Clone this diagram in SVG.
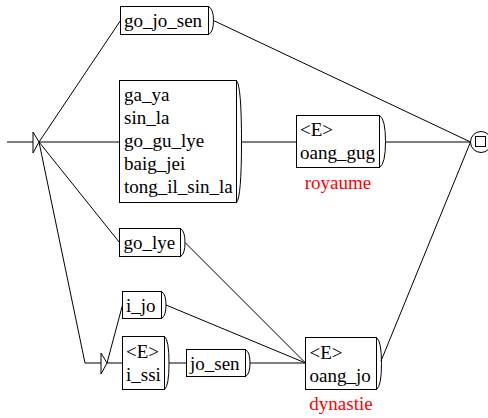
<svg xmlns="http://www.w3.org/2000/svg" width="488" height="418" viewBox="0 0 488 418">
<style>
.box{fill:#fff;stroke:#000;stroke-width:1}
.br{fill:none;stroke:#000;stroke-width:1}
.c{fill:none;stroke:#000;stroke-width:1}
.t{font-family:"Liberation Serif","Times New Roman",serif;font-size:19px;fill:#000}
.out{font-family:"Liberation Serif","Times New Roman",serif;font-size:19px;fill:#f00;text-anchor:middle}
</style>
<rect width="488" height="418" fill="#fff"/>
<g id="connectors">
<line class="c" x1="39" y1="142" x2="120.5" y2="20.5"/>
<line class="c" x1="39" y1="142" x2="119.5" y2="142"/>
<line class="c" x1="39" y1="142" x2="119.5" y2="242.5"/>
<line class="c" x1="39" y1="142" x2="85" y2="363"/>
<line class="c" x1="213.5" y1="20.5" x2="470.5" y2="142"/>
<line class="c" x1="241.5" y1="142" x2="296.5" y2="142"/>
<line class="c" x1="386" y1="142" x2="470.5" y2="142"/>
<line class="c" x1="185" y1="242.5" x2="305.5" y2="363"/>
<line class="c" x1="107" y1="363" x2="122.5" y2="305"/>
<line class="c" x1="107" y1="363" x2="122.5" y2="363"/>
<line class="c" x1="166" y1="305" x2="305.5" y2="363"/>
<line class="c" x1="169" y1="363" x2="186.5" y2="363"/>
<line class="c" x1="250" y1="363" x2="305.5" y2="363"/>
<line class="c" x1="381" y1="361" x2="470.5" y2="142"/>
</g>
<g id="initial">
<line class="c" x1="7" y1="142" x2="33" y2="142"/>
<polygon class="box" points="33,132 33,153 39,142"/>
</g>
<g id="n_go_jo_sen">
<rect class="box" x="120.5" y="6.5" width="88" height="28"/>
<path class="br" d="M208.5,6.5 Q213.5,9 213.5,20.5 Q213.5,32 208.5,34.5"/>
<text class="t" x="124" y="27">go_jo_sen</text>
</g>
<g id="n_kingdoms">
<rect class="box" x="119.5" y="80.5" width="117" height="122"/>
<path class="br" d="M236.5,80.5 Q241.5,86 241.5,142 Q241.5,197 236.5,202.5"/>
<text class="t" x="124" y="101">ga_ya</text>
<text class="t" x="124" y="124">sin_la</text>
<text class="t" x="124" y="147">go_gu_lye</text>
<text class="t" x="124" y="170">baig_jei</text>
<text class="t" x="124" y="193">tong_il_sin_la</text>
</g>
<g id="n_oang_gug">
<rect class="box" x="296.5" y="115.5" width="83" height="52"/>
<path class="br" d="M379.5,115.5 Q385.5,119 385.5,141.5 Q385.5,164 379.5,167.5"/>
<text class="t" x="300" y="136">&lt;E&gt;</text>
<text class="t" x="300" y="159">oang_gug</text>
<text class="out" x="338" y="189">royaume</text>
</g>
<g id="n_go_lye">
<rect class="box" x="119.5" y="228.5" width="61" height="28"/>
<path class="br" d="M180.5,228.5 Q185,231 185,242.5 Q185,254 180.5,256.5"/>
<text class="t" x="123.5" y="249">go_lye</text>
</g>
<g id="n_eps">
<line class="c" x1="85" y1="363" x2="101" y2="363"/>
<polygon class="box" points="101,353 101,374 107,363"/>
</g>
<g id="n_i_jo">
<rect class="box" x="122.5" y="291.5" width="39" height="27"/>
<path class="br" d="M161.5,291.5 Q166,294 166,305 Q166,316 161.5,318.5"/>
<text class="t" x="126" y="312">i_jo</text>
</g>
<g id="n_i_ssi">
<rect class="box" x="122.5" y="336.5" width="42" height="53"/>
<path class="br" d="M164.5,336.5 Q169,340 169,363 Q169,386 164.5,389.5"/>
<text class="t" x="126" y="358">&lt;E&gt;</text>
<text class="t" x="126" y="381">i_ssi</text>
</g>
<g id="n_jo_sen">
<rect class="box" x="186.5" y="349.5" width="59" height="27"/>
<path class="br" d="M245.5,349.5 Q250,352 250,363 Q250,374 245.5,376.5"/>
<text class="t" x="190" y="370">jo_sen</text>
</g>
<g id="n_oang_jo">
<rect class="box" x="305.5" y="337.5" width="71" height="52"/>
<path class="br" d="M376.5,337.5 Q381.5,341 381.5,363.5 Q381.5,386 376.5,389.5"/>
<text class="t" x="309.5" y="358.5">&lt;E&gt;</text>
<text class="t" x="309.5" y="381.5">oang_jo</text>
<text class="out" x="341" y="410">dynastie</text>
</g>
<g id="final">
<circle class="box" cx="481" cy="142" r="10.5"/>
<rect class="box" x="475.5" y="136.5" width="10" height="10"/>
</g>
</svg>
